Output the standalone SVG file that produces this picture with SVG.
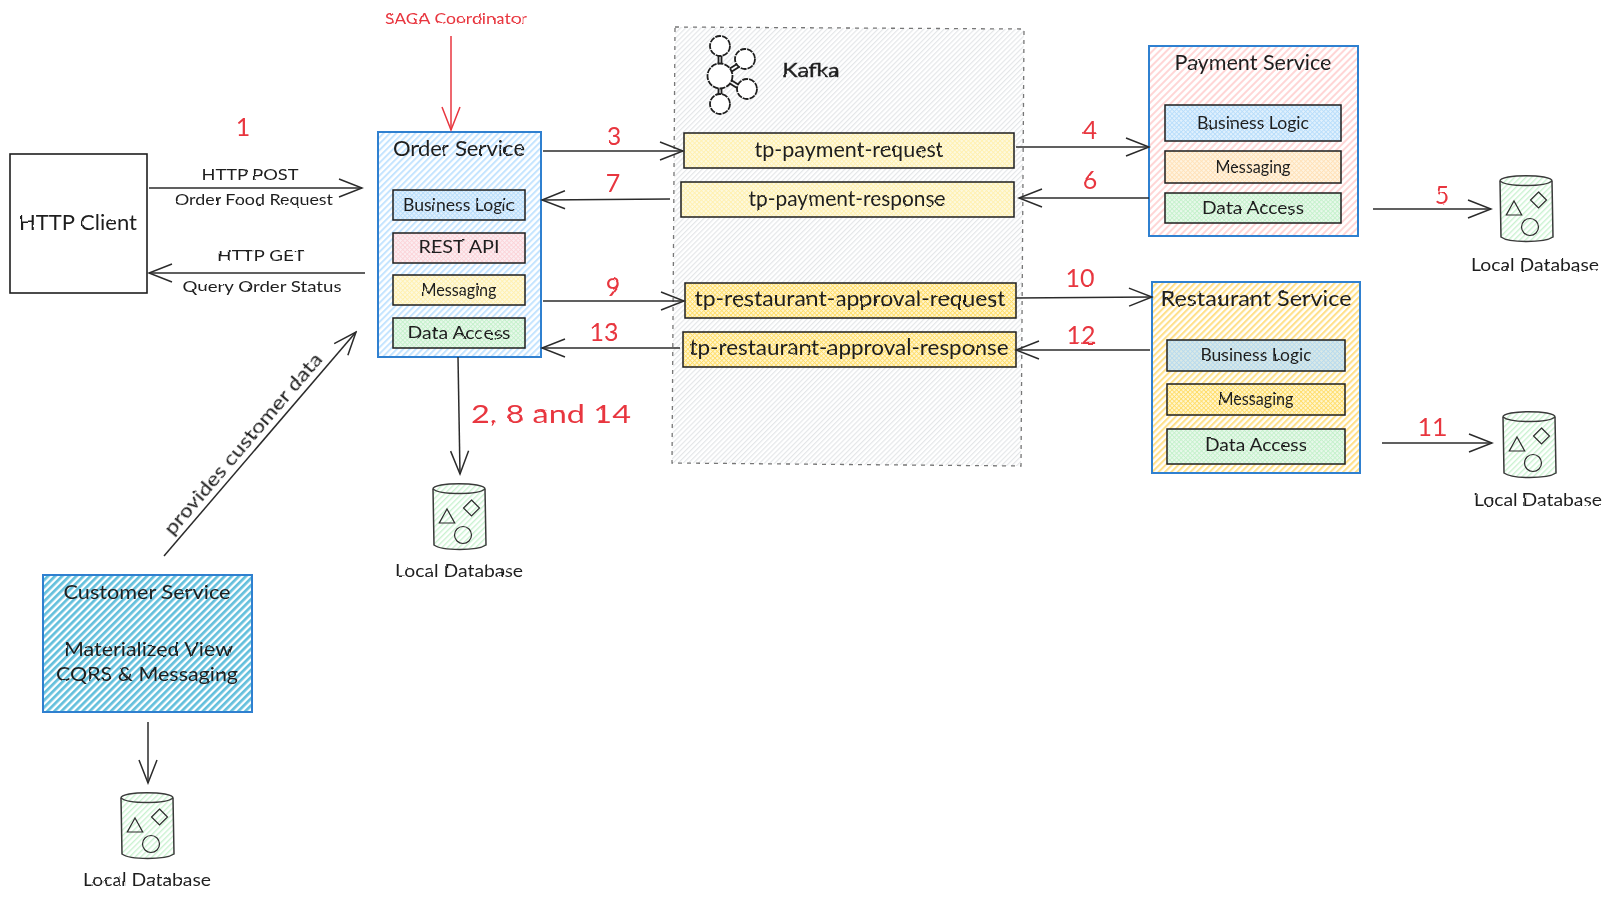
<svg xmlns="http://www.w3.org/2000/svg" xmlns:xlink="http://www.w3.org/1999/xlink" width="1611" height="901" viewBox="0 0 1611 901">
<style>
text{font-family:"Lato","Noto Sans","Liberation Sans",sans-serif;fill:#1e1e1e;text-anchor:middle;dominant-baseline:central;filter:url(#rough)}
.s15{font-size:15px}.s17{font-size:17px}.s19{font-size:19px}.s21{font-size:21px}.s25{font-size:25px}
.red{fill:#e8363f}
.inner{stroke:#1e1e1e;stroke-width:1.5}
.svc{stroke:#2f80d0;stroke-width:2}
.conn{fill:none;stroke:#2b2b2b;stroke-width:1.5;marker-end:url(#head)}
.connred{fill:none;stroke:#e8363f;stroke-width:1.5;marker-end:url(#headred)}
.ln{fill:none;stroke:#2b2b2b;stroke-width:1.2}
</style>
<defs>
<filter id="rough" x="-5%" y="-20%" width="110%" height="140%" color-interpolation-filters="sRGB"><feTurbulence type="fractalNoise" baseFrequency="0.07" numOctaves="2" seed="4" result="n"/><feDisplacementMap in="SourceGraphic" in2="n" scale="2.2" xChannelSelector="R" yChannelSelector="G"/></filter>
<marker id="head" markerUnits="userSpaceOnUse" viewBox="-25 -11 27 22" markerWidth="27" markerHeight="22" refX="0" refY="0" orient="auto"><path d="M-23,-9 L0,0 L-23,9" fill="none" stroke="#2b2b2b" stroke-width="1.5"/></marker>
<marker id="headred" markerUnits="userSpaceOnUse" viewBox="-25 -11 27 22" markerWidth="27" markerHeight="22" refX="0" refY="0" orient="auto"><path d="M-23,-9 L0,0 L-23,9" fill="none" stroke="#e8363f" stroke-width="1.5"/></marker>
<pattern id="hBlue" width="4.5" height="4.5" patternUnits="userSpaceOnUse" patternTransform="rotate(-45)"><rect width="4.5" height="2" fill="#c4e4ff"/></pattern>
<pattern id="hPink" width="5" height="5" patternUnits="userSpaceOnUse" patternTransform="rotate(-45)"><rect width="5" height="2" fill="#ffd6d6"/></pattern>
<pattern id="hYellow" width="4.5" height="4.5" patternUnits="userSpaceOnUse" patternTransform="rotate(-45)"><rect width="4.5" height="2.1" fill="#ffe08a"/></pattern>
<pattern id="hCyan" width="5" height="5" patternUnits="userSpaceOnUse" patternTransform="rotate(-45)"><rect width="5" height="2.7" fill="#62bfdc"/></pattern>
<pattern id="hGrey" width="3.6" height="3.6" patternUnits="userSpaceOnUse" patternTransform="rotate(-45)"><rect width="3.6" height="1.2" fill="#e4e6e8"/></pattern>
<pattern id="hGreen" width="4" height="4" patternUnits="userSpaceOnUse" patternTransform="rotate(-45)"><rect width="4" height="1.4" fill="#c9f2d0"/></pattern>
<pattern id="xBlue" width="3.2" height="3.2" patternUnits="userSpaceOnUse" patternTransform="rotate(45)"><rect width="3.2" height="3.2" fill="#e2f1fd"/><rect width="3.2" height=".9" fill="#b7ddfb"/><rect width=".9" height="3.2" fill="#b7ddfb"/></pattern>
<pattern id="xBlueY" width="3.2" height="3.2" patternUnits="userSpaceOnUse" patternTransform="rotate(45)"><rect width="3.2" height="3.2" fill="#dbe9e6"/><rect width="3.2" height=".9" fill="#b7daee"/><rect width=".9" height="3.2" fill="#b7daee"/></pattern>
<pattern id="xPink" width="3.2" height="3.2" patternUnits="userSpaceOnUse" patternTransform="rotate(45)"><rect width="3.2" height="3.2" fill="#fbeef2"/><rect width="3.2" height=".9" fill="#fbd3d8"/><rect width=".9" height="3.2" fill="#fbd3d8"/></pattern>
<pattern id="xYellow" width="3.2" height="3.2" patternUnits="userSpaceOnUse" patternTransform="rotate(45)"><rect width="3.2" height="3.2" fill="#fdf9e0"/><rect width="3.2" height=".9" fill="#fff0ae"/><rect width=".9" height="3.2" fill="#fff0ae"/></pattern>
<pattern id="xGreen" width="3.2" height="3.2" patternUnits="userSpaceOnUse" patternTransform="rotate(45)"><rect width="3.2" height="3.2" fill="#e9f8ec"/><rect width="3.2" height=".9" fill="#c4f1cb"/><rect width=".9" height="3.2" fill="#c4f1cb"/></pattern>
<pattern id="xOrange" width="3.2" height="3.2" patternUnits="userSpaceOnUse" patternTransform="rotate(45)"><rect width="3.2" height="3.2" fill="#fff4e2"/><rect width="3.2" height=".9" fill="#ffe1b8"/><rect width=".9" height="3.2" fill="#ffe1b8"/></pattern>
<pattern id="xGold" width="3.2" height="3.2" patternUnits="userSpaceOnUse" patternTransform="rotate(45)"><rect width="3.2" height="3.2" fill="#fff6d0"/><rect width="3.2" height=".9" fill="#ffdd68"/><rect width=".9" height="3.2" fill="#ffdd68"/></pattern>
<g id="db">
<path d="M1,6 C1,-1 53,-1 53,6 L54,62 C45,68 10,68 2,62 Z" fill="url(#hGreen)" stroke="#3a3a3a" stroke-width="1.5"/>
<path d="M1,6 C8,12 46,12 53,6" fill="none" stroke="#3a3a3a" stroke-width="1.5"/>
<path d="M7.3,40 H22.7 L15,26 Z" class="ln"/>
<path d="M39.5,17 L47.5,25 L39.5,33 L31.5,25 Z" class="ln"/>
<circle cx="31" cy="52" r="8.5" class="ln"/>
</g>
</defs>
<rect width="1611" height="901" fill="#fff"/>

<g id="kafka">
<path d="M675,27 L1024,29 L1021,466 L672,463 Z" fill="url(#hGrey)" stroke="#777" stroke-width="1.3" stroke-dasharray="4 5"/>
<g fill="#fff" stroke="#1e1e1e" stroke-width="1.8">
<path d="M718.5,56 V65 M721.5,56 V65 M718.5,87 V95 M721.5,87 V95 M729,69 L737,64 M731,72 L739,67 M731,80 L739,85 M729,83 L737,88" fill="none"/>
<circle cx="720" cy="46" r="10" stroke-dasharray="6 1"/><circle cx="745" cy="59" r="10" stroke-dasharray="6 1"/><circle cx="720" cy="76" r="12.5" stroke-dasharray="6 1"/><circle cx="747" cy="89" r="10" stroke-dasharray="6 1"/><circle cx="720" cy="104" r="10" stroke-dasharray="6 1"/>
</g>
<text x="811" y="69" class="s19" textLength="57" lengthAdjust="spacingAndGlyphs" stroke="#1e1e1e" stroke-width=".4">Kafka</text>
</g>

<g id="http-client">
<rect x="10" y="154" width="137" height="139" fill="#fff" stroke="#1e1e1e" stroke-width="1.6"/>
<text x="78" y="221" class="s21" textLength="118" lengthAdjust="spacingAndGlyphs">HTTP Client</text>
</g>

<g id="order-service">
<rect x="378" y="132" width="163" height="225" fill="url(#hBlue)" class="svc"/>
<text x="459" y="147" class="s21" textLength="132" lengthAdjust="spacingAndGlyphs">Order Service</text>
<rect x="393" y="190" width="132" height="30" fill="url(#xBlue)" class="inner"/>
<text x="459" y="204" class="s17" textLength="112" lengthAdjust="spacingAndGlyphs">Business Logic</text>
<rect x="393" y="233" width="132" height="30" fill="url(#xPink)" class="inner"/>
<text x="459" y="246" class="s17" textLength="81" lengthAdjust="spacingAndGlyphs">REST API</text>
<rect x="393" y="275" width="132" height="30" fill="url(#xYellow)" class="inner"/>
<text x="459" y="289" class="s17" textLength="75" lengthAdjust="spacingAndGlyphs">Messaging</text>
<rect x="393" y="318" width="132" height="30" fill="url(#xGreen)" class="inner"/>
<text x="459" y="332" class="s17" textLength="103" lengthAdjust="spacingAndGlyphs">Data Access</text>
</g>

<g id="topic-payment-request">
<rect x="684" y="133" width="330" height="35" fill="url(#xYellow)" class="inner"/>
<text x="849" y="148" class="s21" textLength="189" lengthAdjust="spacingAndGlyphs">tp-payment-request</text>
</g>
<g id="topic-payment-response">
<rect x="681" y="182" width="333" height="35" fill="url(#xYellow)" class="inner"/>
<text x="847" y="197" class="s21" textLength="197" lengthAdjust="spacingAndGlyphs">tp-payment-response</text>
</g>
<g id="topic-restaurant-request">
<rect x="685" y="283" width="331" height="35" fill="url(#xGold)" class="inner"/>
<text x="850" y="297" class="s21" textLength="311" lengthAdjust="spacingAndGlyphs">tp-restaurant-approval-request</text>
</g>
<g id="topic-restaurant-response">
<rect x="683" y="332" width="333" height="35" fill="url(#xGold)" class="inner"/>
<text x="849" y="346" class="s21" textLength="319" lengthAdjust="spacingAndGlyphs">tp-restaurant-approval-response</text>
</g>

<g id="payment-service">
<rect x="1149" y="46" width="209" height="190" fill="url(#hPink)" class="svc"/>
<text x="1253" y="61" class="s21" textLength="157" lengthAdjust="spacingAndGlyphs">Payment Service</text>
<rect x="1165" y="105" width="176" height="36" fill="url(#xBlue)" class="inner"/>
<text x="1253" y="122" class="s17" textLength="112" lengthAdjust="spacingAndGlyphs">Business Logic</text>
<rect x="1165" y="151" width="176" height="32" fill="url(#xOrange)" class="inner"/>
<text x="1253" y="166" class="s17" textLength="75" lengthAdjust="spacingAndGlyphs">Messaging</text>
<rect x="1165" y="193" width="176" height="30" fill="url(#xGreen)" class="inner"/>
<text x="1253" y="207" class="s17" textLength="102" lengthAdjust="spacingAndGlyphs">Data Access</text>
</g>

<g id="restaurant-service">
<rect x="1152" y="282" width="208" height="191" fill="url(#hYellow)" class="svc"/>
<text x="1256" y="297" class="s21" textLength="191" lengthAdjust="spacingAndGlyphs">Restaurant Service</text>
<rect x="1167" y="340" width="178" height="31" fill="url(#xBlueY)" class="inner"/>
<text x="1256" y="354" class="s17" textLength="111" lengthAdjust="spacingAndGlyphs">Business Logic</text>
<rect x="1167" y="384" width="178" height="31" fill="url(#xGold)" class="inner"/>
<text x="1256" y="398" class="s17" textLength="75" lengthAdjust="spacingAndGlyphs">Messaging</text>
<rect x="1167" y="429" width="178" height="35" fill="url(#xGreen)" class="inner"/>
<text x="1256" y="444" class="s17" textLength="102" lengthAdjust="spacingAndGlyphs">Data Access</text>
</g>

<g id="customer-service">
<rect x="43" y="575" width="209" height="137" fill="url(#hCyan)" class="svc"/>
<text x="147" y="591" class="s19" textLength="167" lengthAdjust="spacingAndGlyphs">Customer Service</text>
<text x="148" y="648" class="s19" textLength="168" lengthAdjust="spacingAndGlyphs">Materialized View</text>
<text x="147" y="673" class="s19" textLength="182" lengthAdjust="spacingAndGlyphs">CQRS &amp; Messaging</text>
</g>

<g id="db-order"><use href="#db" x="432" y="483"/><text x="459" y="570" class="s17" textLength="128" lengthAdjust="spacingAndGlyphs">Local Database</text></g>
<g id="db-payment"><use href="#db" x="1499" y="175"/><text x="1535" y="264" class="s17" textLength="128" lengthAdjust="spacingAndGlyphs">Local Database</text></g>
<g id="db-restaurant"><use href="#db" x="1502" y="411"/><text x="1538" y="499" class="s17" textLength="128" lengthAdjust="spacingAndGlyphs">Local Database</text></g>
<g id="db-customer"><use href="#db" x="120" y="792"/><text x="147" y="879" class="s17" textLength="128" lengthAdjust="spacingAndGlyphs">Local Database</text></g>

<g id="connectors">
<path class="conn" d="M149,188 H362"/>
<path class="conn" d="M365,273 H149"/>
<path class="connred" d="M451,36 V130"/>
<path class="conn" d="M543,151 H683"/>
<path class="conn" d="M670,199 L542,200"/>
<path class="conn" d="M543,301 H684"/>
<path class="conn" d="M680,348 L542,348"/>
<path class="conn" d="M1016,147 H1149"/>
<path class="conn" d="M1149,198 H1019"/>
<path class="conn" d="M1016,298 L1152,297"/>
<path class="conn" d="M1150,350 H1016"/>
<path class="conn" d="M1373,209 H1491"/>
<path class="conn" d="M1382,443 H1492"/>
<path class="conn" d="M458,357 L460,474"/>
<path class="conn" d="M164,556 L356,332"/>
<path class="conn" d="M148,722 V783"/>
</g>

<g id="labels">
<text x="456" y="18" class="s15 red" textLength="142" lengthAdjust="spacingAndGlyphs">SAGA Coordinator</text>
<text x="250" y="174" class="s15" textLength="97" lengthAdjust="spacingAndGlyphs">HTTP POST</text>
<text x="254" y="199" class="s15" textLength="158" lengthAdjust="spacingAndGlyphs">Order Food Request</text>
<text x="261" y="255" class="s15" textLength="88" lengthAdjust="spacingAndGlyphs">HTTP GET</text>
<text x="262" y="286" class="s15" textLength="159" lengthAdjust="spacingAndGlyphs">Query Order Status</text>
<text x="242" y="443" class="s19" transform="rotate(-49.5 242 443)" textLength="232" lengthAdjust="spacingAndGlyphs">provides customer data</text>
<text x="243" y="126" class="s25 red">1</text>
<text x="551" y="413" class="s25 red" textLength="160" lengthAdjust="spacingAndGlyphs">2, 8 and 14</text>
<text x="614" y="135" class="s25 red">3</text>
<text x="1090" y="129" class="s25 red">4</text>
<text x="1442" y="194" class="s25 red">5</text>
<text x="1090" y="179" class="s25 red">6</text>
<text x="613" y="182" class="s25 red">7</text>
<text x="613" y="286" class="s25 red">9</text>
<text x="1080" y="277" class="s25 red">10</text>
<text x="1432" y="426" class="s25 red">11</text>
<text x="1081" y="334" class="s25 red">12</text>
<text x="604" y="331" class="s25 red">13</text>
</g>
</svg>
